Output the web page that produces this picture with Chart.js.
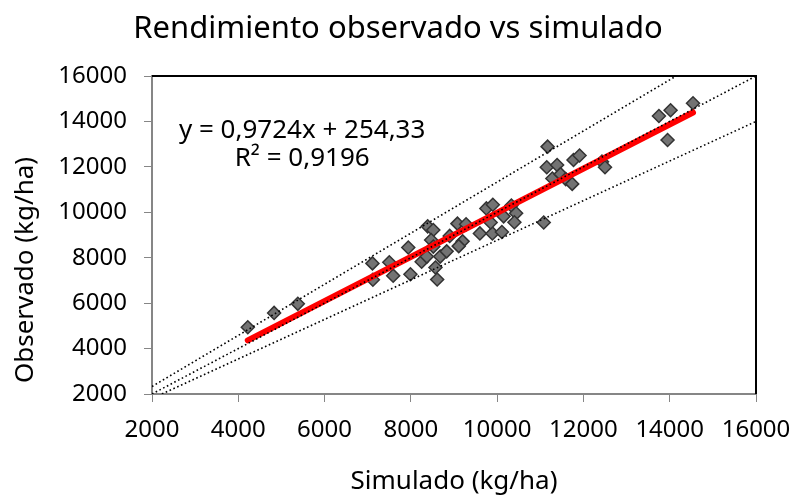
<!DOCTYPE html>
<html>
<head>
<meta charset="utf-8">
<script src="https://cdn.jsdelivr.net/npm/chart.js@4"></script>
<style>
  html, body { margin: 0; padding: 0; background: #fff; }
  #wrap { width: 795px; height: 497px; }
</style>
</head>
<body>
<div id="wrap"><canvas id="chart"></canvas></div>
<script>
const simulado = [4220, 4830, 5380, 7110, 7120, 7500, 7590, 7940, 7990, 8250,
  8390, 8520, 8470, 8570, 8610, 8680, 8830, 8900, 9080, 9200,
  9110, 9280, 9600, 9750, 9900, 9890, 9850, 10110, 10150, 10330,
  10440, 10400, 11080, 11170, 11150, 11390, 11280, 11470, 11590, 11740,
  11770, 11910, 12430, 12500, 13750, 14020, 13950, 14540, 8370, 8520]
const observado = [4940, 5570, 5970, 7750, 7030, 7800, 7210, 8450, 7270, 7820,
  9380, 9220, 8780, 7570, 7040, 8050, 8280, 8960, 9500, 8720,
  8510, 9470, 9070, 10170, 10330, 9070, 9550, 9130, 9820, 10300,
  9960, 9560, 9550, 12890, 11980, 12080, 11490, 11680, 11460, 11250,
  12300, 12500, 12230, 11980, 14240, 14490, 13180, 14800, 8050, 8490]

// linear fit shown on the chart
const slope = 0.9724
const intercept = 254.33

// reference lines (dotted): upper, 1:1, lower
const upperLineX = [2000, 14150]
const upperLineY = [2330, 16000]
const oneToOneX = [2000, 16000]
const oneToOneY = [2000, 16000]
const lowerLineX = [2230, 16000]
const lowerLineY = [2000, 14000]

const axisTicks = [2000, 4000, 6000, 8000, 10000, 12000, 14000, 16000]

const FONT = '"Noto Sans", sans-serif'
const GREY = '#868686'

const toPts = (xs, ys) => xs.map((x, i) => ({ x: x, y: ys[i] }))

const xMin = Math.min(...simulado)
const xMax = Math.max(...simulado)
const trend = [
  { x: xMin, y: slope * xMin + intercept },
  { x: xMax, y: slope * xMax + intercept }
]

const dotted = (pts) => ({
  type: 'line',
  data: pts,
  borderColor: '#000',
  borderWidth: 1.6,
  borderDash: [1.6, 2.6],
  pointRadius: 0,
  fill: false,
  order: 0
})

// frame top/right in black, title, y title and equation text
const extras = {
  id: 'extras',
  beforeDatasetsDraw(chart) {
    const { ctx, chartArea: a } = chart
    ctx.save()
    ctx.strokeStyle = '#000'
    ctx.lineWidth = 2
    ctx.beginPath()
    ctx.moveTo(a.left, a.top)
    ctx.lineTo(a.right, a.top)
    ctx.lineTo(a.right, a.bottom)
    ctx.stroke()
    ctx.restore()
  },
  afterDraw(chart) {
    const { ctx } = chart
    const xs = chart.scales.x, ys = chart.scales.y
    ctx.save()
    ctx.fillStyle = '#000'
    ctx.textAlign = 'center'
    ctx.textBaseline = 'middle'

    ctx.font = '31px ' + FONT
    ctx.fillText('Rendimiento observado vs simulado', 398, 29)

    ctx.font = '26px ' + FONT
    const ex = xs.getPixelForValue(5480)
    ctx.fillText('y = 0,9724x + 254,33', ex, ys.getPixelForValue(13580))
    ctx.fillText('R² = 0,9196', ex, ys.getPixelForValue(12350))

    ctx.translate(26, 270)
    ctx.rotate(-Math.PI / 2)
    ctx.font = '26px ' + FONT
    ctx.fillText('Observado (kg/ha)', 0, 0)
    ctx.restore()
  }
}

const canvas = document.getElementById('chart')
new Chart(canvas.getContext('2d'), {
  type: 'scatter',
  data: {
    datasets: [
      {
        label: 'datos',
        data: toPts(simulado, observado),
        pointStyle: 'rectRot',
        pointRadius: 6.5,
        pointBackgroundColor: '#737373',
        pointBorderColor: '#333333',
        pointBorderWidth: 1.5,
        order: 2
      },
      {
        type: 'line',
        label: 'tendencia',
        data: trend,
        borderColor: '#ff0000',
        borderWidth: 6,
        borderCapStyle: 'round',
        pointRadius: 0,
        order: 1
      },
      dotted(toPts(upperLineX, upperLineY)),
      dotted(toPts(oneToOneX, oneToOneY)),
      dotted(toPts(lowerLineX, lowerLineY))
    ]
  },
  options: {
    responsive: true,
    maintainAspectRatio: false,
    animation: false,
    layout: { padding: { left: 0, right: 39, top: 76, bottom: 0 } },
    plugins: {
      legend: { display: false },
      tooltip: { enabled: false },
      title: { display: false }
    },
    scales: {
      x: {
        type: 'linear',
        min: 2000,
        max: 16000,
        afterBuildTicks: (s) => { s.ticks = axisTicks.map(v => ({ value: v })) },
        afterFit: (s) => {
          s.height = 103
          s.paddingLeft = 0
          s.paddingRight = 0
        },
        grid: { drawOnChartArea: false, drawTicks: true, tickLength: 8, color: GREY },
        border: { color: GREY, width: 2 },
        ticks: {
          color: '#000', padding: 14, maxRotation: 0,
          font: { family: FONT, size: 24 },
          callback: (v) => String(v)
        },
        title: {
          display: true,
          text: 'Simulado (kg/ha)',
          color: '#000',
          font: { family: FONT, size: 26, lineHeight: 1.2 },
          padding: { top: 0, bottom: 0 }
        }
      },
      y: {
        type: 'linear',
        min: 2000,
        max: 16000,
        afterBuildTicks: (s) => { s.ticks = axisTicks.map(v => ({ value: v })) },
        afterFit: (s) => { s.width = 152 },
        grid: { drawOnChartArea: false, drawTicks: true, tickLength: 8, color: GREY },
        border: { color: GREY, width: 2 },
        ticks: {
          color: '#000', padding: 17,
          font: { family: FONT, size: 24 },
          callback: (v) => String(v)
        }
      }
    }
  },
  plugins: [extras]
})
</script>
</body>
</html>
